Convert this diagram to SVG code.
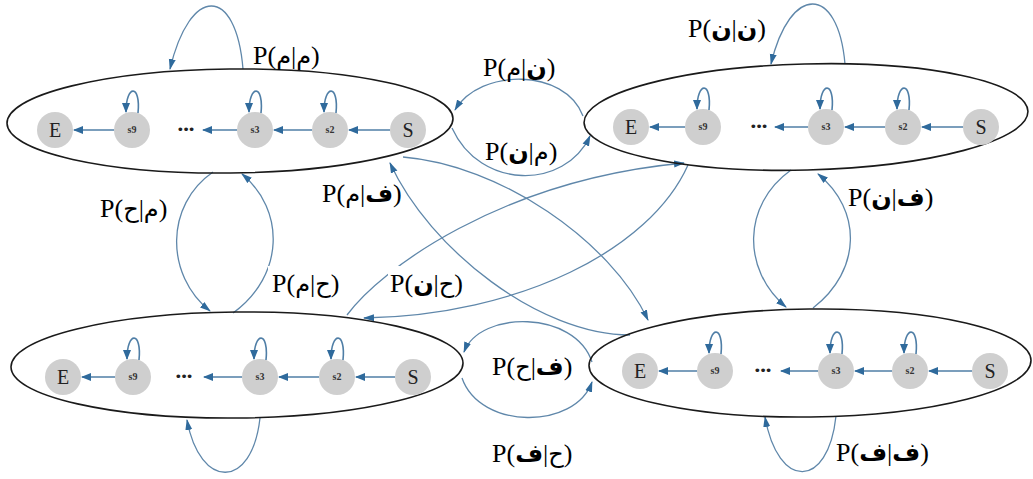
<svg xmlns="http://www.w3.org/2000/svg" width="1033" height="479" viewBox="0 0 1033 479">
<style>
.cl{fill:none;stroke:#1a1a1a;stroke-width:1.6}
.nd{fill:#cfcfcf}
.big{font-family:'Liberation Serif','DejaVu Serif',serif;font-size:20px;fill:#222;text-anchor:middle}
.sm{font-family:'Liberation Serif','DejaVu Serif',serif;font-size:10px;font-weight:bold;fill:#333;text-anchor:middle}
.dots{font-family:'DejaVu Sans',sans-serif;font-size:13px;letter-spacing:-2px;fill:#222;text-anchor:middle}
.ia{fill:none;stroke:#4f7ea6;stroke-width:1.6;marker-end:url(#ah)}
.cn{fill:none;stroke:#5f87aa;stroke-width:1.3;marker-end:url(#ah2)}
.lb{font-family:'Liberation Serif','DejaVu Sans',serif;font-size:26px;fill:#000}
.b{font-family:'DejaVu Sans',sans-serif;font-weight:bold;font-size:24px}
.r{font-family:'DejaVu Sans',sans-serif;font-size:24px}
</style>
<defs>
<marker id="ah" markerUnits="userSpaceOnUse" markerWidth="10" markerHeight="8" refX="9" refY="4" orient="auto">
<path d="M0,0 L10,4 L0,8 z" fill="#2f6a9c"/>
</marker>
<marker id="ah2" markerUnits="userSpaceOnUse" markerWidth="11" markerHeight="8" refX="10" refY="4" orient="auto">
<path d="M0,0.5 L11,4 L0,7.5 z" fill="#2f6a9c"/>
</marker>
</defs>
<rect width="1033" height="479" fill="#fff"/>

<!-- connectors -->
<g id="connectors">
<!-- self loops of clusters -->
<path class="cn" d="M243,69 C236,-15 190,-15 170,69"/>
<path class="cn" d="M845,64 C838,-16 790,-16 771,64"/>
<path class="cn" d="M260,418 C252,490 200,490 187,420"/>
<path class="cn" d="M836,416 C828,490 778,490 765,417"/>
<!-- top lens -->
<path class="cn" d="M583,116 C565,68 480,68 455,110"/>
<path class="cn" d="M452,128 C480,190 565,190 590,136"/>
<!-- bottom lens -->
<path class="cn" d="M592,362 C575,310 480,310 464,352"/>
<path class="cn" d="M462,378 C480,430 575,430 592,382"/>
<!-- left lens -->
<path class="cn" d="M213,172 C165,205 165,275 210,311"/>
<path class="cn" d="M233,313 C285,275 285,210 242,174"/>
<!-- right lens -->
<path class="cn" d="M791,170 C742,205 742,270 786,307"/>
<path class="cn" d="M813,308 C862,270 862,210 818,174"/>
<!-- diagonals -->
<path class="cn" d="M403,157 C500,165 610,240 648,320"/>
<path class="cn" d="M630,335 C540,335 430,250 390,163"/>
<path class="cn" d="M688,165 C650,250 520,315 364,318"/>
<path class="cn" d="M347,315 C380,270 500,180 684,163"/>
</g>

<!-- top-left cluster -->
<g id="cluster-tl">
<ellipse class="cl" cx="230" cy="121" rx="223" ry="52" transform="rotate(-0.6 230 121)"/>
<g id="tl-S"><circle class="nd" cx="408" cy="130" r="18"/><text class="big" x="408" y="137">S</text></g>
<g id="tl-s2"><circle class="nd" cx="330" cy="130" r="18"/><text class="sm" x="330" y="133">s2</text></g>
<g id="tl-s3"><circle class="nd" cx="255" cy="130" r="18"/><text class="sm" x="255" y="133">s3</text></g>
<g id="tl-dots"><text class="dots" x="185" y="134">•••</text></g>
<g id="tl-s9"><circle class="nd" cx="132" cy="130" r="18"/><text class="sm" x="132" y="133">s9</text></g>
<g id="tl-E"><circle class="nd" cx="55" cy="130" r="18"/><text class="big" x="55" y="137">E</text></g>
<path class="ia" d="M390,130 H349"/>
<path class="ia" d="M312,130 H274"/>
<path class="ia" d="M237,130 H203"/>
<path class="ia" d="M114,130 H74"/>
<path class="ia" d="M336,113 C339,84 324,84 324,112"/>
<path class="ia" d="M261,113 C264,84 249,84 249,112"/>
<path class="ia" d="M138,113 C141,84 126,84 126,112"/>
</g>

<!-- top-right cluster -->
<g id="cluster-tr">
<ellipse class="cl" cx="806" cy="117" rx="222" ry="53" transform="rotate(-1.5 806 117)"/>
<g id="tr-S"><circle class="nd" cx="981" cy="127" r="18"/><text class="big" x="981" y="134">S</text></g>
<g id="tr-s2"><circle class="nd" cx="903" cy="127" r="18"/><text class="sm" x="903" y="130">s2</text></g>
<g id="tr-s3"><circle class="nd" cx="826" cy="127" r="18"/><text class="sm" x="826" y="130">s3</text></g>
<g id="tr-dots"><text class="dots" x="758" y="131">•••</text></g>
<g id="tr-s9"><circle class="nd" cx="703" cy="127" r="18"/><text class="sm" x="703" y="130">s9</text></g>
<g id="tr-E"><circle class="nd" cx="631" cy="127" r="18"/><text class="big" x="631" y="134">E</text></g>
<path class="ia" d="M963,127 H922"/>
<path class="ia" d="M885,127 H845"/>
<path class="ia" d="M808,127 H775"/>
<path class="ia" d="M685,127 H650"/>
<path class="ia" d="M909,110 C912,81 897,81 897,109"/>
<path class="ia" d="M832,110 C835,81 820,81 820,109"/>
<path class="ia" d="M709,110 C712,81 697,81 697,109"/>
</g>

<!-- bottom-left cluster -->
<g id="cluster-bl">
<ellipse class="cl" cx="237" cy="365" rx="226" ry="53" transform="rotate(-0.5 237 365)"/>
<g id="bl-S"><circle class="nd" cx="413" cy="377" r="18"/><text class="big" x="413" y="384">S</text></g>
<g id="bl-s2"><circle class="nd" cx="337" cy="377" r="18"/><text class="sm" x="337" y="380">s2</text></g>
<g id="bl-s3"><circle class="nd" cx="260" cy="377" r="18"/><text class="sm" x="260" y="380">s3</text></g>
<g id="bl-dots"><text class="dots" x="183" y="381">•••</text></g>
<g id="bl-s9"><circle class="nd" cx="133" cy="377" r="18"/><text class="sm" x="133" y="380">s9</text></g>
<g id="bl-E"><circle class="nd" cx="63" cy="377" r="18"/><text class="big" x="63" y="384">E</text></g>
<path class="ia" d="M395,377 H356"/>
<path class="ia" d="M319,377 H279"/>
<path class="ia" d="M242,377 H204"/>
<path class="ia" d="M115,377 H82"/>
<path class="ia" d="M343,360 C346,331 331,331 331,359"/>
<path class="ia" d="M266,360 C269,331 254,331 254,359"/>
<path class="ia" d="M139,360 C142,331 127,331 127,359"/>
</g>

<!-- bottom-right cluster -->
<g id="cluster-br">
<ellipse class="cl" cx="810" cy="363" rx="221" ry="54" transform="rotate(-0.7 810 363)"/>
<g id="br-S"><circle class="nd" cx="990" cy="371" r="18"/><text class="big" x="990" y="378">S</text></g>
<g id="br-s2"><circle class="nd" cx="910" cy="371" r="18"/><text class="sm" x="910" y="374">s2</text></g>
<g id="br-s3"><circle class="nd" cx="836" cy="371" r="18"/><text class="sm" x="836" y="374">s3</text></g>
<g id="br-dots"><text class="dots" x="762" y="375">•••</text></g>
<g id="br-s9"><circle class="nd" cx="715" cy="371" r="18"/><text class="sm" x="715" y="374">s9</text></g>
<g id="br-E"><circle class="nd" cx="640" cy="371" r="18"/><text class="big" x="640" y="378">E</text></g>
<path class="ia" d="M972,371 H929"/>
<path class="ia" d="M892,371 H855"/>
<path class="ia" d="M818,371 H781"/>
<path class="ia" d="M697,371 H659"/>
<path class="ia" d="M916,354 C919,325 904,325 904,353"/>
<path class="ia" d="M842,354 C845,325 830,325 830,353"/>
<path class="ia" d="M721,354 C724,325 709,325 709,353"/>
</g>

<!-- labels -->
<g id="labels">
<rect x="268" y="266" width="78" height="34" fill="#fff"/>
<rect x="388" y="266" width="76" height="34" fill="#fff"/>
<text class="lb" x="253" y="64">P(<tspan class="r">م</tspan>|<tspan class="r">م</tspan>)</text>
<text class="lb" x="688" y="37">P(<tspan class="b">ن</tspan>|<tspan class="b">ن</tspan>)</text>
<text class="lb" x="483" y="76">P(<tspan class="b">ن</tspan>|<tspan class="r">م</tspan>)</text>
<text class="lb" x="485" y="160">P(<tspan class="r">م</tspan>|<tspan class="b">ن</tspan>)</text>
<text class="lb" x="100" y="217">P(<tspan class="r">م</tspan>|<tspan class="r">ح</tspan>)</text>
<text class="lb" x="322" y="202">P(<tspan class="b">ف</tspan>|<tspan class="r">م</tspan>)</text>
<text class="lb" x="272" y="292">P(<tspan class="r">ح</tspan>|<tspan class="r">م</tspan>)</text>
<text class="lb" x="390" y="292">P(<tspan class="r">ح</tspan>|<tspan class="b">ن</tspan>)</text>
<text class="lb" x="848" y="206">P(<tspan class="b">ف</tspan>|<tspan class="b">ن</tspan>)</text>
<text class="lb" x="492" y="375">P(<tspan class="b">ف</tspan>|<tspan class="r">ح</tspan>)</text>
<text class="lb" x="492" y="462">P(<tspan class="r">ح</tspan>|<tspan class="b">ف</tspan>)</text>
<text class="lb" x="836" y="461">P(<tspan class="b">ف</tspan>|<tspan class="b">ف</tspan>)</text>
</g>
</svg>
